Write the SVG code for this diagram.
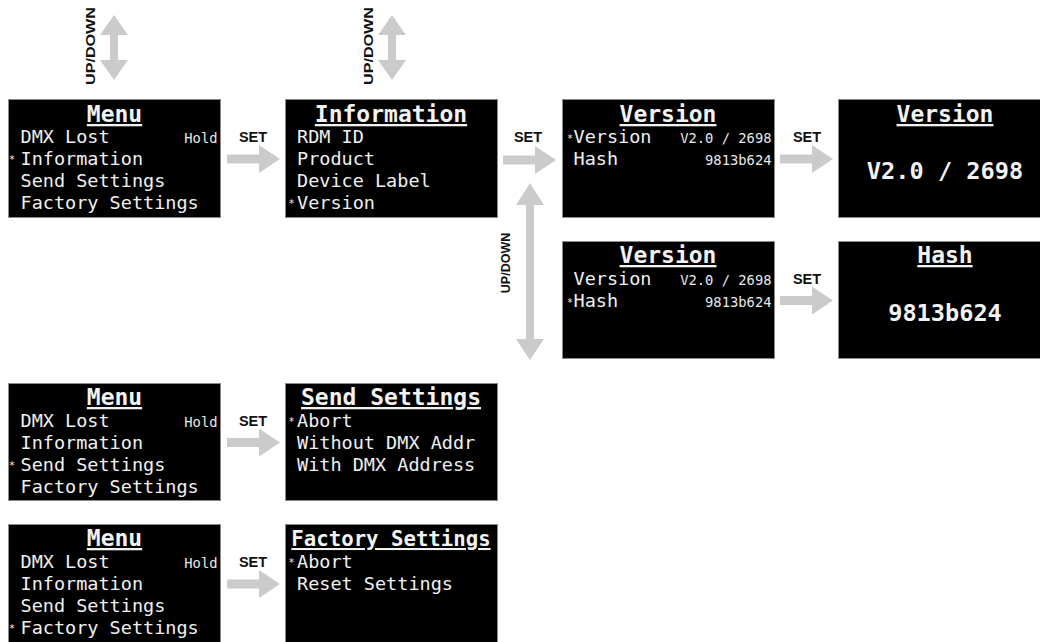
<svg xmlns="http://www.w3.org/2000/svg" width="1040" height="642" viewBox="0 0 1040 642">
<style>
.box{fill:#000;stroke:#8a8a8a;stroke-width:1}
.title{font-family:"DejaVu Sans Mono",monospace;font-weight:bold;font-size:23px;fill:#f2f2f2;text-anchor:middle;text-decoration:underline}
.row{font-family:"DejaVu Sans Mono",monospace;font-size:18.5px;fill:#f0f0f0}
.ast{font-size:10px}
.val{font-family:"DejaVu Sans Mono",monospace;font-size:13.8px;fill:#e8e8e8;text-anchor:end}
.big{font-family:"DejaVu Sans Mono",monospace;font-weight:bold;font-size:23.6px;fill:#f2f2f2;text-anchor:middle}
.arr{fill:#cbcbcb}
.lbl{font-family:"Liberation Sans",Arial,sans-serif;font-weight:bold;font-size:14.5px;fill:#111;text-anchor:middle}
.ud{font-family:"Liberation Sans",Arial,sans-serif;font-weight:bold;font-size:12.5px;fill:#111;text-anchor:middle}
</style>
<rect width="1040" height="642" fill="#fff"/>

<g id="connectors">
  <polygon class="arr" points="114,15 128,35 118,35 118,60 128,60 114,80 100,60 110,60 110,35 100,35"/>
  <text class="ud" transform="translate(95,46) rotate(-90)" textLength="78" lengthAdjust="spacingAndGlyphs">UP/DOWN</text>
  <polygon class="arr" points="392,15 406,35 396,35 396,60 406,60 392,80 378,60 388,60 388,35 378,35"/>
  <text class="ud" transform="translate(373,46) rotate(-90)" textLength="78" lengthAdjust="spacingAndGlyphs">UP/DOWN</text>
  <polygon class="arr" points="530,183 544,205 534,205 534,339 544,339 530,360 516,339 526,339 526,205 516,205"/>
  <text class="ud" transform="translate(510,263) rotate(-90)">UP/DOWN</text>

  <polygon class="arr" points="227,154.5 259,154.5 259,145 280,159 259,173 259,163.5 227,163.5"/>
  <text class="lbl" x="253" y="142">SET</text>
  <polygon class="arr" points="503,155.5 535,155.5 535,146 556,160 535,174 535,164.5 503,164.5"/>
  <text class="lbl" x="528" y="142">SET</text>
  <polygon class="arr" points="780,154.5 812,154.5 812,145 833,159 812,173 812,163.5 780,163.5"/>
  <text class="lbl" x="807" y="142">SET</text>
  <polygon class="arr" points="780,296 812,296 812,286.5 833,300.5 812,314.5 812,305 780,305"/>
  <text class="lbl" x="807" y="284">SET</text>
  <polygon class="arr" points="227,438 259,438 259,428.5 280,442.5 259,456.5 259,447 227,447"/>
  <text class="lbl" x="253" y="426">SET</text>
  <polygon class="arr" points="227,579.5 259,579.5 259,570 280,584 259,598 259,588.5 227,588.5"/>
  <text class="lbl" x="253" y="567">SET</text>
</g>

<g id="menu1">
  <rect class="box" x="8.5" y="99.5" width="212" height="118"/>
  <text class="title" x="114.5" y="122">Menu</text>
  <text class="row" x="20.5" y="143">DMX Lost</text>
  <text class="val" x="217.5" y="143">Hold</text>
  <text class="row" x="20.5" y="165"><tspan class="ast" x="9" dy="-2">*</tspan><tspan x="20.5" dy="2">Information</tspan></text>
  <text class="row" x="20.5" y="187">Send Settings</text>
  <text class="row" x="20.5" y="209">Factory Settings</text>
</g>

<g id="information">
  <rect class="box" x="285.5" y="99.5" width="212" height="118"/>
  <text class="title" x="391" y="122">Information</text>
  <text class="row" x="297" y="143">RDM ID</text>
  <text class="row" x="297" y="165">Product</text>
  <text class="row" x="297" y="187">Device Label</text>
  <text class="row" x="297" y="209"><tspan class="ast" x="288.5" dy="-2">*</tspan><tspan x="297" dy="2">Version</tspan></text>
</g>

<g id="version1">
  <rect class="box" x="562.5" y="99.5" width="212" height="118"/>
  <text class="title" x="668" y="122">Version</text>
  <text class="row" x="573.5" y="143"><tspan class="ast" x="567" dy="-1">*</tspan><tspan x="573.5" dy="1">Version</tspan></text>
  <text class="val" x="771.5" y="143">V2.0 / 2698</text>
  <text class="row" x="573.5" y="165">Hash</text>
  <text class="val" x="771.5" y="165">9813b624</text>
</g>

<g id="version2">
  <rect class="box" x="562.5" y="241.5" width="212" height="117"/>
  <text class="title" x="668" y="263">Version</text>
  <text class="row" x="573.5" y="285">Version</text>
  <text class="val" x="771.5" y="285">V2.0 / 2698</text>
  <text class="row" x="573.5" y="307"><tspan class="ast" x="567" dy="-1">*</tspan><tspan x="573.5" dy="1">Hash</tspan></text>
  <text class="val" x="771.5" y="307">9813b624</text>
</g>

<g id="version-value">
  <rect class="box" x="838.5" y="99.5" width="213" height="118"/>
  <text class="title" x="945" y="122">Version</text>
  <text class="big" x="945" y="179">V2.0 / 2698</text>
</g>

<g id="hash-value">
  <rect class="box" x="838.5" y="241.5" width="213" height="117"/>
  <text class="title" x="945" y="263">Hash</text>
  <text class="big" x="945" y="321">9813b624</text>
</g>

<g id="menu2">
  <rect class="box" x="8.5" y="383.5" width="212" height="117"/>
  <text class="title" x="114.5" y="405">Menu</text>
  <text class="row" x="20.5" y="427">DMX Lost</text>
  <text class="val" x="217.5" y="427">Hold</text>
  <text class="row" x="20.5" y="449">Information</text>
  <text class="row" x="20.5" y="471"><tspan class="ast" x="9" dy="-2">*</tspan><tspan x="20.5" dy="2">Send Settings</tspan></text>
  <text class="row" x="20.5" y="493">Factory Settings</text>
</g>

<g id="send-settings">
  <rect class="box" x="285.5" y="383.5" width="212" height="117"/>
  <text class="title" x="391" y="405">Send Settings</text>
  <text class="row" x="297" y="427"><tspan class="ast" x="288.5" dy="-2">*</tspan><tspan x="297" dy="2">Abort</tspan></text>
  <text class="row" x="297" y="449">Without DMX Addr</text>
  <text class="row" x="297" y="471">With DMX Address</text>
</g>

<g id="menu3">
  <rect class="box" x="8.5" y="524.5" width="212" height="130"/>
  <text class="title" x="114.5" y="546">Menu</text>
  <text class="row" x="20.5" y="568">DMX Lost</text>
  <text class="val" x="217.5" y="568">Hold</text>
  <text class="row" x="20.5" y="590">Information</text>
  <text class="row" x="20.5" y="612">Send Settings</text>
  <text class="row" x="20.5" y="634"><tspan class="ast" x="9" dy="-2">*</tspan><tspan x="20.5" dy="2">Factory Settings</tspan></text>
</g>

<g id="factory-settings">
  <rect class="box" x="285.5" y="524.5" width="212" height="130"/>
  <text class="title" x="391" y="546" style="font-size:20.7px">Factory Settings</text>
  <text class="row" x="297" y="568"><tspan class="ast" x="288.5" dy="-2">*</tspan><tspan x="297" dy="2">Abort</tspan></text>
  <text class="row" x="297" y="590">Reset Settings</text>
</g>
</svg>
